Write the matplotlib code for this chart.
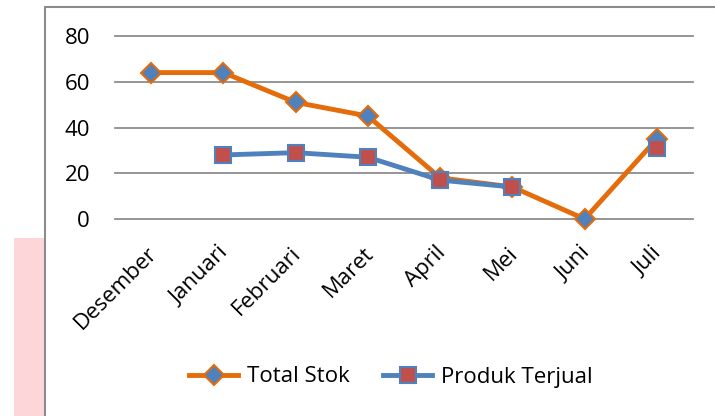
import numpy as np
import matplotlib.pyplot as plt
import matplotlib.transforms as mtransforms
from matplotlib.patches import Rectangle

bulan = ['Desember', 'Januari', 'Februari', 'Maret', 'April', 'Mei', 'Juni', 'Juli']
total_stok = [64, 64, 51, 45, 18, 14, 0, 35]
produk_terjual = [np.nan, 28, 29, 27, 17, 14, np.nan, 31]

plt.rcParams['font.family'] = ['Open Sans', 'DejaVu Sans']

fig = plt.figure(figsize=(7.15, 4.16), dpi=100)

# pink strip and chart frame
fig.patches.append(Rectangle((14/715, 0), 31/715, 1 - 238/416, transform=fig.transFigure,
                             facecolor='#fdd6d9', edgecolor='none', zorder=0))
fig.patches.append(Rectangle((45/715, -0.05), 1, 1 - 7/416 + 0.05, transform=fig.transFigure,
                             facecolor='white', edgecolor='#8c8c8c', lw=1.5, zorder=0))

ax = fig.add_axes([115/715, 1 - 219/416, 578/715, 183/416])
ax.set_zorder(2)
ax.set_facecolor('none')
x = np.arange(len(bulan))

ax.plot(x, total_stok, color='#e46c0a', lw=3.5, marker='D', markersize=10,
        markerfacecolor='#4f81bd', markeredgecolor='#e46c0a', markeredgewidth=1.5,
        label='Total Stok', clip_on=False, zorder=3)
ax.plot(x, produk_terjual, color='#4f81bd', lw=3.5, marker='s', markersize=11,
        markerfacecolor='#c0504d', markeredgecolor='#4f81bd', markeredgewidth=1.5,
        label='Produk Terjual', clip_on=False, zorder=4)

ax.set_xlim(-0.5, len(bulan) - 0.5)
ax.set_ylim(0, 80)
ax.set_yticks([0, 20, 40, 60, 80])
ax.yaxis.grid(True, color='#8c8c8c', lw=1.3)
for gl in ax.get_ygridlines():
    gl.set_clip_on(False)
ax.set_axisbelow(True)
for s in ax.spines.values():
    s.set_visible(False)
ax.tick_params(axis='both', length=0, labelsize=16)
ax.tick_params(axis='y', pad=18)
ax.tick_params(axis='x', pad=17)
ax.set_xticks(x)
ax.set_xticklabels(bulan, rotation=45, ha='right', rotation_mode='anchor')
shift = mtransforms.ScaledTranslation(-5/100, 0, fig.dpi_scale_trans)
for t in ax.get_xticklabels():
    t.set_transform(t.get_transform() + shift)

ax.legend(loc='center', bbox_to_anchor=(391/715, 1 - 377/416), bbox_transform=fig.transFigure,
          ncol=2, frameon=False, fontsize=16, handlelength=2.2, columnspacing=1.5,
          handletextpad=0.4)

fig.savefig('out.png', dpi=100)
